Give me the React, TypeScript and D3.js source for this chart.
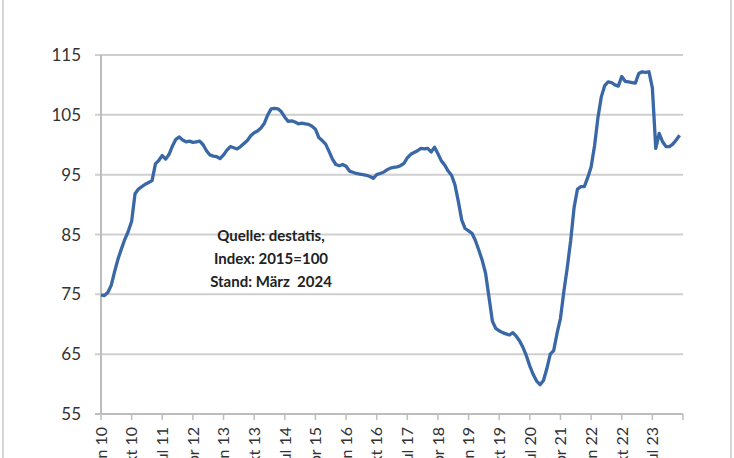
import * as d3 from "d3";

// monthly index values, Jan 2010 .. Mar 2024
const values2010 = [74.9, 74.8, 75.3, 76.5, 78.8, 80.9, 82.6, 84.2, 85.5, 87.2, 91.8, 92.6];
const values2011 = [93.0, 93.4, 93.7, 94.0, 96.8, 97.4, 98.2, 97.6, 98.4, 99.8, 100.9, 101.3];
const values2012 = [100.8, 100.5, 100.6, 100.4, 100.5, 100.6, 100.0, 99.0, 98.3, 98.1, 98.0, 97.7];
const values2013 = [98.3, 99.1, 99.7, 99.5, 99.3, 99.7, 100.2, 100.7, 101.5, 102.0, 102.3, 102.8];
const values2014 = [103.6, 105.0, 106.0, 106.1, 106.0, 105.5, 104.6, 103.9, 104.0, 103.8, 103.5, 103.6];
const values2015 = [103.5, 103.4, 103.1, 102.6, 101.2, 100.7, 100.1, 98.9, 97.6, 96.7, 96.5, 96.7];
const values2016 = [96.4, 95.6, 95.4, 95.2, 95.1, 95.0, 94.9, 94.7, 94.4, 95.0, 95.2, 95.4];
const values2017 = [95.8, 96.1, 96.2, 96.3, 96.5, 96.9, 97.8, 98.4, 98.7, 99.0, 99.4, 99.3];
const values2018 = [99.4, 98.8, 99.6, 98.5, 97.3, 96.6, 95.6, 94.9, 93.3, 90.5, 87.4, 86.0];
const values2019 = [85.6, 85.2, 84.0, 82.4, 80.7, 78.5, 74.5, 70.5, 69.3, 68.9, 68.6, 68.4];
const values2020 = [68.2, 68.6, 68.0, 67.2, 66.1, 64.7, 63.0, 61.6, 60.5, 59.9, 60.6, 62.6];
const values2021 = [65.0, 65.6, 68.5, 71.0, 75.5, 79.5, 84.0, 89.5, 92.6, 93.0, 93.0, 94.5];
const values2022 = [96.3, 99.8, 104.5, 108.0, 109.9, 110.5, 110.4, 110.0, 109.8, 111.4, 110.6, 110.5];
const values2023 = [110.4, 110.3, 111.9, 112.2, 112.1, 112.2, 109.5, 99.4, 101.9, 100.5, 99.7, 99.7];
const values2024 = [100.1, 100.8, 101.6];

const series = [
  ...values2010, ...values2011, ...values2012, ...values2013, ...values2014,
  ...values2015, ...values2016, ...values2017, ...values2018, ...values2019,
  ...values2020, ...values2021, ...values2022, ...values2023, ...values2024,
];

const yTicks = [55, 65, 75, 85, 95, 105, 115];
const xLabels = [
  "Jan 10", "Okt 10", "Jul 11", "Apr 12", "Jan 13", "Okt 13", "Jul 14", "Apr 15",
  "Jan 16", "Okt 16", "Jul 17", "Apr 18", "Jan 19", "Okt 19", "Jul 20", "Apr 21",
  "Jan 22", "Okt 22", "Jul 23",
];
const labelStep = 9; // months between axis labels
const note = ["Quelle: destatis,", "Index: 2015=100", "Stand: März  2024"];

const W = 734;
const H = 458;

export default function App() {
  const x = d3.scaleLinear().domain([0, xLabels.length * labelStep]).range([101, 683]);
  const y = d3.scaleLinear().domain([55, 115]).range([414, 55]);

  const line = d3
    .line<number>()
    .x((_, i) => x(i))
    .y((d) => y(d))
    .curve(d3.curveLinear);

  const tickIdx = d3.range(0, xLabels.length + 1).map((k) => k * labelStep);

  return (
    <div style={{ position: "absolute", left: 0, top: 0 }}>
      <svg width={W} height={H} style={{ display: "block", background: "#fff" }}>
        {/* frame edges */}
        <line x1={3} x2={3} y1={0} y2={H} stroke="#d6d6d6" strokeWidth={2} />
        <line x1={731} x2={731} y1={0} y2={H} stroke="#d6d6d6" strokeWidth={2} />

        {/* horizontal grid + y ticks */}
        {yTicks.map((t) => (
          <g key={t}>
            <line
              x1={95}
              x2={x.range()[1]}
              y1={y(t)}
              y2={y(t)}
              stroke={t === 55 ? "#bdbdbd" : "#cfcfcf"}
              strokeWidth={2}
            />
            <text
              x={81}
              y={y(t)}
              dy="0.36em"
              textAnchor="end"
              fontFamily="Lato, 'Open Sans', sans-serif"
              fontSize={17}
              fill="#333"
            >
              {t}
            </text>
          </g>
        ))}

        {/* y axis line */}
        <line x1={x(0)} x2={x(0)} y1={y(115)} y2={y(55)} stroke="#bdbdbd" strokeWidth={2} />

        {/* x ticks */}
        {tickIdx.map((i) => (
          <line key={i} x1={x(i)} x2={x(i)} y1={y(55)} y2={y(55) + 6} stroke="#bdbdbd" strokeWidth={1.5} />
        ))}

        {/* x labels, rotated (cut off by the bottom edge as in the original) */}
        {xLabels.map((lab, k) => (
          <text
            key={k}
            transform={`translate(${x(k * labelStep)},427) rotate(-90)`}
            dy="0.36em"
            textAnchor="end"
            fontFamily="Lato, 'Open Sans', sans-serif"
            fontSize={16}
            fill="#333"
          >
            {lab}
          </text>
        ))}

        {/* data line */}
        <path
          d={line(series) ?? ""}
          fill="none"
          stroke="#3a67a5"
          strokeWidth={3.3}
          strokeLinejoin="round"
        />

        {/* source note */}
        {note.map((s, k) => (
          <text
            key={k}
            x={271}
            y={236 + k * 23}
            dy="0.36em"
            textAnchor="middle"
            fontFamily="Lato, 'Open Sans', sans-serif"
            fontWeight="bold"
            fontSize={15}
            fill="#222"
            style={{ whiteSpace: "pre" }}
          >
            {s}
          </text>
        ))}
      </svg>
    </div>
  );
}
